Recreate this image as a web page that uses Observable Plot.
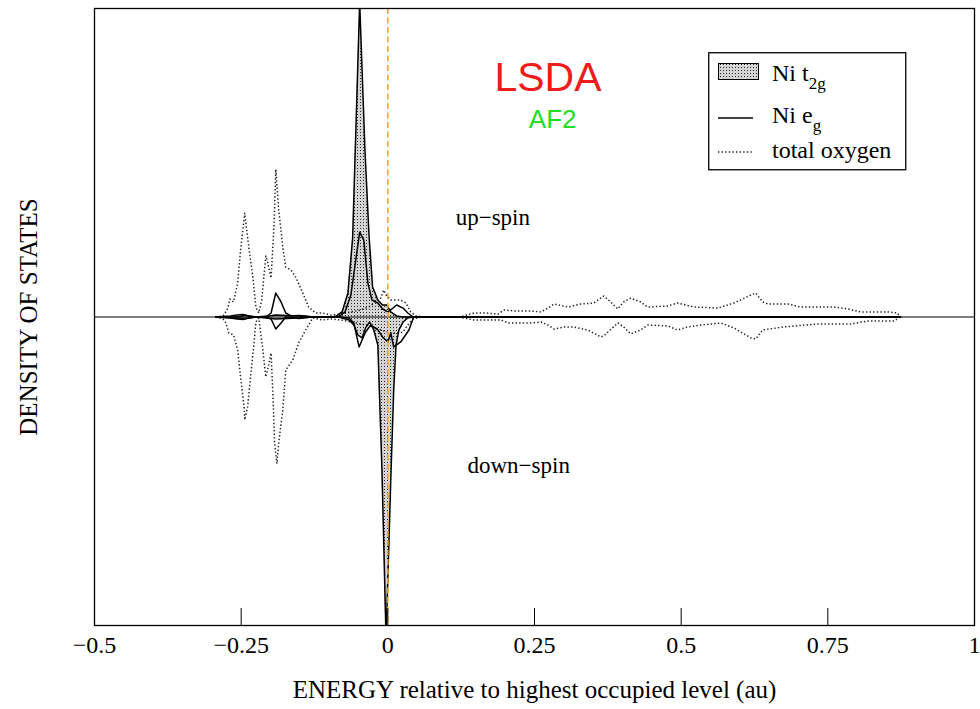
<!DOCTYPE html>
<html><head><meta charset="utf-8">
<script src="https://cdn.jsdelivr.net/npm/d3@7"></script>
<script src="https://cdn.jsdelivr.net/npm/@observablehq/plot@0.6"></script>
<style>
body{margin:0;background:#fff;}
#wrap{position:relative;width:980px;height:709px;}
#legend{position:absolute;left:708px;top:52px;}
#defs{position:absolute;width:0;height:0;}
</style></head>
<body>
<svg id="defs" width="0" height="0"><defs>
<pattern id="stip" width="3" height="3" patternUnits="userSpaceOnUse">
<rect width="3" height="3" fill="#d4d4d4"/><rect width="1" height="1" fill="#2a2a2a"/>
</pattern></defs></svg>
<div id="wrap"></div>
<script>
// x ticks
const xTicks = [-0.5, -0.25, 0, 0.25, 0.5, 0.75, 1];
const xTickLabels = ["−0.5", "−0.25", "0", "0.25", "0.5", "0.75", "1"];

// total oxygen, up-spin
const oxUpE = [-0.293,-0.281,-0.274,-0.269,-0.263,-0.256,-0.251,-0.244,-0.237,-0.230,-0.225,-0.220,-0.215,-0.208,-0.205,-0.199,-0.194,-0.191,-0.186,-0.179,-0.174,-0.165,-0.157,-0.145,-0.135,-0.123,-0.111,-0.097,-0.080,-0.063,-0.046,-0.029,-0.020,-0.012,-0.007,-0.002,0.005,0.014,0.022,0.031,0.039,0.048,0.065,0.124,0.147,0.167,0.188,0.198,0.218,0.244,0.261,0.273,0.283,0.307,0.329,0.351,0.368,0.380,0.392,0.402,0.414,0.431,0.443,0.477,0.494,0.522,0.563,0.590,0.619,0.627,0.639,0.648,0.682,0.704,0.760,0.784,0.806,0.852,0.869,0.873];
const oxUpV = [0,0.010,0.068,0.175,0.146,0.330,0.650,1.010,0.680,0.388,0.097,0.039,0.165,0.592,0.534,0.379,0.893,1.437,1.039,0.680,0.485,0.456,0.388,0.233,0.097,0.039,0.039,0.019,0.029,0.049,0.068,0.107,0.165,0.184,0.262,0.204,0.165,0.165,0.165,0.136,0.049,0.010,0,0.003,0.039,0.039,0.029,0.068,0.058,0.058,0.049,0.087,0.126,0.097,0.126,0.136,0.204,0.146,0.078,0.146,0.184,0.146,0.097,0.107,0.136,0.097,0.087,0.136,0.214,0.233,0.146,0.126,0.126,0.097,0.097,0.078,0.049,0.049,0.039,0];

// total oxygen, down-spin
const oxDnE = [-0.293,-0.281,-0.276,-0.271,-0.263,-0.256,-0.251,-0.245,-0.244,-0.239,-0.234,-0.228,-0.225,-0.220,-0.213,-0.208,-0.203,-0.199,-0.196,-0.193,-0.189,-0.186,-0.179,-0.174,-0.162,-0.152,-0.140,-0.128,-0.111,-0.097,-0.080,-0.063,-0.046,-0.029,-0.012,0.005,0.017,0.026,0.034,0.043,0.056,0.124,0.147,0.193,0.205,0.244,0.261,0.273,0.283,0.300,0.317,0.341,0.363,0.368,0.392,0.402,0.414,0.431,0.443,0.477,0.494,0.511,0.534,0.568,0.590,0.619,0.627,0.639,0.675,0.733,0.789,0.818,0.863,0.873];
const oxDnV = [0,-0.019,-0.058,-0.155,-0.175,-0.320,-0.583,-0.874,-1.000,-0.874,-0.583,-0.252,-0.049,-0.010,-0.320,-0.583,-0.466,-0.350,-0.738,-1.223,-1.427,-1.223,-0.903,-0.515,-0.417,-0.252,-0.126,-0.010,-0.029,-0.019,-0.029,-0.049,-0.068,-0.087,-0.126,-0.155,-0.155,-0.146,-0.078,-0.019,0,-0.003,-0.029,-0.029,-0.058,-0.058,-0.049,-0.078,-0.117,-0.097,-0.097,-0.126,-0.194,-0.184,-0.058,-0.097,-0.165,-0.126,-0.078,-0.087,-0.126,-0.097,-0.078,-0.058,-0.107,-0.204,-0.214,-0.126,-0.097,-0.068,-0.068,-0.039,-0.039,0];

// Ni eg
const egUpE = [-0.293,-0.268,-0.257,-0.247,-0.237,-0.225,-0.208,-0.199,-0.191,-0.182,-0.174,-0.165,-0.152,-0.140,-0.128,-0.084,-0.073,-0.063,-0.048,-0.041,-0.034,-0.027,-0.017,-0.009,0,0.007,0.015,0.026,0.034,0.043,0.874];
const egUpV = [0,0.010,0.019,0.024,0.010,0,0,0.039,0.233,0.146,0.039,0.010,0.015,0.010,0,0,0.049,0.214,0.825,0.748,0.330,0.165,0.136,0.078,0.049,0.078,0.117,0.087,0.039,0,0];
const egDnE = [-0.293,-0.268,-0.257,-0.247,-0.237,-0.225,-0.208,-0.199,-0.191,-0.182,-0.174,-0.152,-0.128,-0.084,-0.066,-0.058,-0.049,-0.038,-0.029,-0.017,-0.009,0,0.005,0.010,0.022,0.036,0.044,0.874];
const egDnV = [0,-0.010,-0.019,-0.024,-0.010,0,0,-0.019,-0.117,-0.058,0,-0.015,0,0,-0.010,-0.058,-0.291,-0.146,-0.078,-0.126,-0.194,-0.243,-0.155,-0.291,-0.243,-0.126,0,0];

// Ni t2g
const t2gUpE = [-0.293,-0.259,-0.242,-0.225,-0.203,-0.191,-0.174,-0.152,-0.131,-0.097,-0.087,-0.078,-0.068,-0.060,-0.048,-0.039,-0.032,-0.026,-0.017,-0.009,-0.002,0.005,0.015,0.026,0.874];
const t2gUpV = [0,0,0.015,0,0.010,0.019,0.015,0.010,0,0,0.010,0.049,0.233,0.767,3.058,1.621,0.786,0.291,0.165,0.117,0.117,0.049,0.010,0,0];
const t2gDnE = [-0.293,-0.242,-0.225,-0.191,-0.152,-0.131,-0.084,-0.066,-0.058,-0.051,-0.044,-0.038,-0.031,-0.024,-0.017,-0.010,-0.003,0.005,0.010,0.014,0.019,0.026,0.034,0.043,0.874];
const t2gDnV = [0,-0.015,0,-0.019,-0.010,0,0,-0.029,-0.078,-0.175,-0.204,-0.107,-0.049,-0.126,-0.272,-1.485,-3.136,-1.583,-0.709,-0.272,-0.126,-0.049,-0.010,0,0];

const rows = (E, V) => E.map((e, i) => ({e, v: V[i]}));
const oxUp = rows(oxUpE, oxUpV), oxDn = rows(oxDnE, oxDnV);
const egUp = rows(egUpE, egUpV), egDn = rows(egDnE, egDnV);
const t2gUp = rows(t2gUpE, t2gUpV), t2gDn = rows(t2gDnE, t2gDnV);

const yMin = -3, yMax = 3;
const tickLen = 0.165;
const serif = "Liberation Serif, Times New Roman, serif";
const sans = "Liberation Sans, Arial, sans-serif";
const dots = {x: "e", y: "v", stroke: "#222", strokeWidth: 1.5, strokeDasharray: "1.4 2.2", strokeLinecap: "butt", clip: true};
const solid = {x: "e", y: "v", stroke: "black", strokeWidth: 1.5, clip: true};

const chart = Plot.plot({
  width: 980, height: 709,
  marginLeft: 94, marginRight: 6, marginTop: 8, marginBottom: 84,
  x: {domain: [-0.5, 1]},
  y: {domain: [yMin, yMax], axis: null},
  style: {fontFamily: serif, background: "white", color: "black"},
  marks: [
    Plot.areaY(t2gUp, {x: "e", y: "v", fill: "url(#stip)", clip: true}),
    Plot.areaY(t2gDn, {x: "e", y: "v", fill: "url(#stip)", clip: true}),
    Plot.ruleY([0], {stroke: "black", strokeWidth: 1}),
    Plot.line(oxUp, dots),
    Plot.line(oxDn, dots),
    Plot.line(t2gUp, solid),
    Plot.line(t2gDn, solid),
    Plot.line(egUp, solid),
    Plot.line(egDn, solid),
    Plot.ruleX([0], {stroke: "#f0a030", strokeWidth: 1.5, strokeDasharray: "6 3.5"}),
    Plot.ruleX(xTicks, {y1: yMin, y2: yMin + tickLen, stroke: "black", strokeWidth: 1}),
    Plot.frame({stroke: "black", strokeWidth: 1.3}),
    Plot.axisX(xTicks, {tickSize: 0, tickPadding: 10, fontSize: 24, label: null,
      tickFormat: d => xTickLabels[xTicks.indexOf(d)]}),
    Plot.text(["ENERGY relative to highest occupied level (au)"], {text: d => d, frameAnchor: "bottom", textAnchor: "middle", dy: 72, fontSize: 25}),
    Plot.text(["DENSITY OF STATES"], {text: d => d, frameAnchor: "left", textAnchor: "middle", lineAnchor: "middle", dx: -66, rotate: -90, fontSize: 25}),
    Plot.text(["LSDA"], {text: d => d, x: 0.273, y: 2.33, fontSize: 41, fontFamily: sans, fill: "#ee1c1c"}),
    Plot.text(["AF2"], {text: d => d, x: 0.281, y: 1.92, fontSize: 26, fontFamily: sans, fill: "#22dd22"}),
    Plot.text(["up−spin"], {text: d => d, x: 0.179, y: 0.965, fontSize: 23}),
    Plot.text(["down−spin"], {text: d => d, x: 0.223, y: -1.45, fontSize: 23})
  ]
});
document.getElementById("wrap").appendChild(chart);

// legend
const legend = `<svg id="legend" width="200" height="120" font-family="${serif}" font-size="24">
<rect x="0.75" y="0.75" width="197" height="117" fill="white" stroke="black" stroke-width="1.3"/>
<rect x="10.5" y="11.5" width="40" height="16" fill="url(#stip)" stroke="black" stroke-width="1"/>
<text x="64" y="29">Ni t<tspan font-size="17" dy="8">2g</tspan></text>
<line x1="10" x2="45" y1="66" y2="66" stroke="black" stroke-width="1.5"/>
<text x="64" y="71">Ni e<tspan font-size="17" dy="8">g</tspan></text>
<line x1="10" x2="45" y1="100" y2="100" stroke="#222" stroke-width="1.5" stroke-dasharray="1.4 2.2"/>
<text x="64" y="106">total oxygen</text>
</svg>`;
document.getElementById("wrap").insertAdjacentHTML("beforeend", legend);
</script>
</body></html>
